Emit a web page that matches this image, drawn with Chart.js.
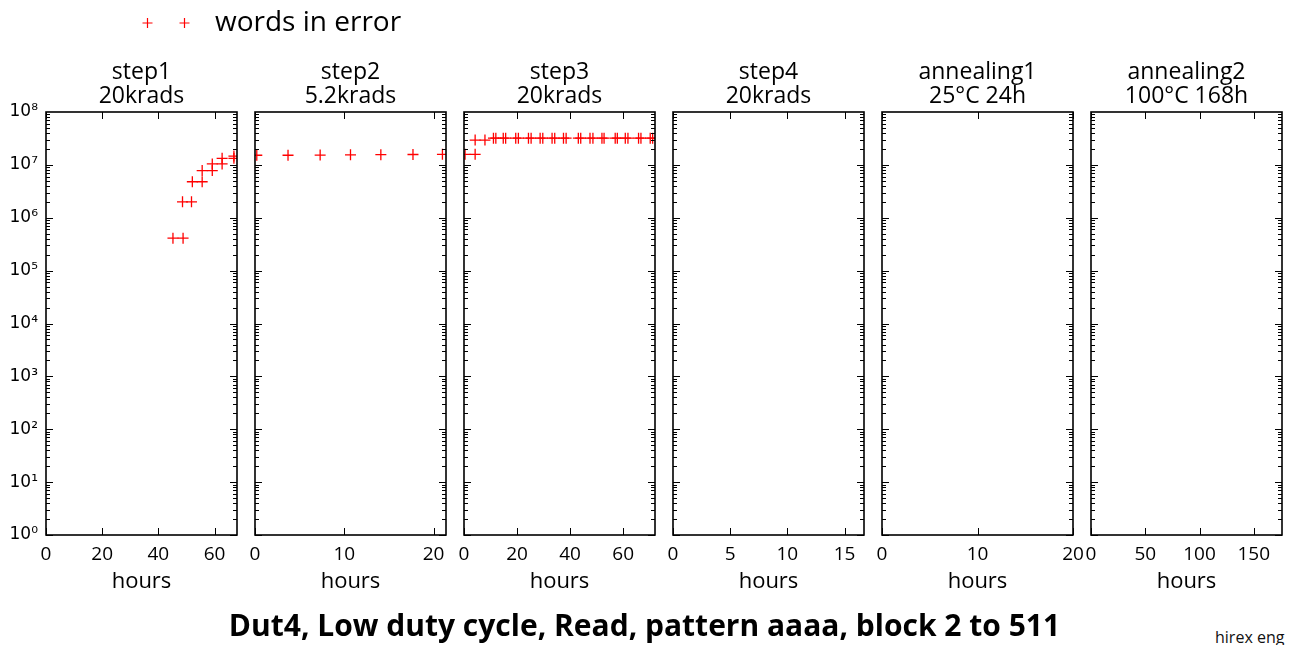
<!DOCTYPE html>
<html>
<head>
<meta charset="utf-8">
<script src="https://cdn.jsdelivr.net/npm/chart.js@4/dist/chart.umd.min.js"></script>
<style>
html,body{margin:0;padding:0;background:#fff;width:1289px;height:645px;overflow:hidden;}
#wrap{position:relative;width:1289px;height:645px;overflow:hidden;}
#wrap canvas{position:absolute;top:0;}
#credit{position:absolute;left:1215px;top:626px;font:16px 'Open Sans','DejaVu Sans',sans-serif;color:#111;white-space:nowrap;}
</style>
</head>
<body>
<div id="wrap"><div id="credit">hirex eng</div></div>
<script>
// ---------- data ----------
const legendLabel = 'words in error';
const footerTitle = 'Dut4, Low duty cycle, Read, pattern aaaa, block 2 to 511';
const panelTitles = [
  ['step1', '20krads'],
  ['step2', '5.2krads'],
  ['step3', '20krads'],
  ['step4', '20krads'],
  ['annealing1', '25°C 24h'],
  ['annealing2', '100°C 168h']
];
const xMax = [68, 21.4, 72, 16.7, 20, 176];
const xTicks = [
  [0, 20, 40, 60],
  [0, 10, 20],
  [0, 20, 40, 60],
  [0, 5, 10, 15],
  [0, 10, 20],
  [0, 50, 100, 150]
];
const yTicks = [1, 10, 100, 1e3, 1e4, 1e5, 1e6, 1e7, 1e8];

const step1Hours = [45.2, 48.8, 48.6, 51.8, 52.1, 55.6, 55.6, 59.2, 59.2, 62.7, 62.7, 66.9, 66.9];
const step1Words = [4.1e5, 4.1e5, 2.0e6, 2.0e6, 4.8e6, 4.8e6, 7.8e6, 7.8e6, 1.04e7, 1.04e7, 1.33e7, 1.33e7, 1.47e7];

const step2Hours = [0.2, 3.7, 7.3, 10.7, 14.1, 17.7, 21.0];
const step2Words = [1.52e7, 1.52e7, 1.53e7, 1.55e7, 1.56e7, 1.57e7, 1.58e7];

const step3Hours = [0.4, 4.2, 4.2, 7.9, 11.1, 12.0, 14.8, 15.7, 19.5, 20.5, 24.3, 25.3, 28.7, 29.7,
                    33.2, 34.2, 37.5, 38.5, 43.1, 44.0, 47.5, 48.6, 52.0, 52.8, 57.0, 57.8, 60.8, 61.8,
                    65.8, 66.7, 70.2, 71.1];
const step3Words = [1.58e7, 1.58e7, 2.95e7, 2.95e7, 3.2e7, 3.2e7, 3.2e7, 3.2e7, 3.2e7, 3.2e7, 3.2e7, 3.2e7,
                    3.2e7, 3.2e7, 3.2e7, 3.2e7, 3.2e7, 3.2e7, 3.2e7, 3.2e7, 3.2e7, 3.2e7, 3.2e7, 3.2e7,
                    3.2e7, 3.2e7, 3.2e7, 3.2e7, 3.2e7, 3.2e7, 3.2e7, 3.2e7];

const step4Hours = [];
const step4Words = [];
const anneal1Hours = [];
const anneal1Words = [];
const anneal2Hours = [];
const anneal2Words = [];

const panelHours = [step1Hours, step2Hours, step3Hours, step4Hours, anneal1Hours, anneal2Hours];
const panelWords = [step1Words, step2Words, step3Words, step4Words, anneal1Words, anneal2Words];

// ---------- drawing ----------
const FONT = "'Open Sans', 'DejaVu Sans', sans-serif";
const YFONT = "'DejaVu Sans', 'Open Sans', sans-serif";
const RED = '#ff0000';
const SUP = ['⁰','¹','²','³','⁴','⁵','⁶','⁷','⁸','⁹'];
const fmtPow = v => '10' + String(Math.round(Math.log10(v))).split('').map(d => SUP[+d]).join('');
const wrap = document.getElementById('wrap');

const framePlugin = {
  id: 'frame',
  afterDatasetsDraw(chart) {
    const {ctx, chartArea: a, scales: {x, y}} = chart;
    ctx.save();
    ctx.strokeStyle = '#000';
    ctx.lineWidth = 1;
    ctx.beginPath();
    const maj = 7, mnr = 4;
    x.ticks.forEach(t => {
      const px = Math.round(x.getPixelForValue(t.value)) + 0.5;
      ctx.moveTo(px, a.bottom); ctx.lineTo(px, a.bottom - maj);
      ctx.moveTo(px, a.top); ctx.lineTo(px, a.top + maj);
    });
    for (let e = 0; e < 8; e++) {
      for (let m = 1; m < 10; m++) {
        const py = Math.round(y.getPixelForValue(m * Math.pow(10, e))) + 0.5;
        const l = m === 1 ? maj : mnr;
        ctx.moveTo(a.left, py); ctx.lineTo(a.left + l, py);
        ctx.moveTo(a.right, py); ctx.lineTo(a.right - l, py);
      }
    }
    ctx.stroke();
    ctx.lineWidth = 1.6;
    ctx.strokeRect(a.left, a.top, a.right - a.left, a.bottom - a.top);
    ctx.restore();
  }
};

function makePanel(i) {
  const W = 191;
  const L = 46 + 209 * i;
  const first = i === 0;
  const leftM = first ? 46 : 20, rightM = 22;
  const cv = document.createElement('canvas');
  cv.width = leftM + W + rightM;
  cv.height = 645;
  cv.style.left = (L - leftM) + 'px';
  wrap.appendChild(cv);
  const hours = panelHours[i], words = panelWords[i];
  new Chart(cv, {
    type: 'scatter',
    data: {
      datasets: [{
        label: legendLabel,
        data: hours.map((h, k) => ({x: h, y: words[k]})),
        pointStyle: 'cross',
        pointRadius: 5.5,
        pointHoverRadius: 5.5,
        borderColor: RED,
        backgroundColor: RED,
        borderWidth: 1.3,
        showLine: false,
        clip: 0
      }]
    },
    options: {
      responsive: false,
      animation: false,
      devicePixelRatio: 1,
      events: [],
      layout: {padding: {left: first ? 0 : leftM, right: rightM, top: 60, bottom: 48}},
      plugins: {legend: {display: false}, tooltip: {enabled: false}, title: {display: false}},
      scales: {
        x: {
          type: 'linear', position: 'bottom', min: 0, max: xMax[i],
          afterBuildTicks: s => { s.ticks = xTicks[i].map(v => ({value: v})); },
          afterFit: s => { s.height = 62; },
          grid: {display: false, drawTicks: false},
          border: {display: false},
          ticks: {padding: 8, color: '#000', autoSkip: false, maxRotation: 0, font: {family: FONT, size: 19}},
          title: {display: true, text: 'hours', color: '#000', font: {family: FONT, size: 22}, padding: {top: 0, bottom: 2}}
        },
        x2: {
          type: 'linear', position: 'top', min: 0, max: xMax[i],
          afterFit: s => { s.height = 52; },
          grid: {display: false, drawTicks: false},
          border: {display: false},
          ticks: {display: false},
          title: {display: true, text: panelTitles[i], color: '#000', font: {family: FONT, size: 23, lineHeight: 1.05}, padding: {top: 0, bottom: 0}}
        },
        y: {
          type: 'logarithmic', min: 1, max: 1e8, display: first,
          afterBuildTicks: s => { s.ticks = yTicks.map(v => ({value: v})); },
          afterFit: s => { s.width = first ? 46 : 0; },
          grid: {display: false, drawTicks: false},
          border: {display: false},
          ticks: {padding: 8, color: '#000', autoSkip: false, font: {family: YFONT, size: 17}, callback: v => fmtPow(v)}
        }
      }
    },
    plugins: [framePlugin]
  });
}

for (let i = 0; i < 6; i++) makePanel(i);

// overlay: legend + footer title
const crossImg = document.createElement('canvas');
crossImg.width = 60; crossImg.height = 14;
(() => {
  const c = crossImg.getContext('2d');
  c.strokeStyle = RED; c.lineWidth = 1.2;
  [6.5, 43.5].forEach(cx => {
    c.beginPath();
    c.moveTo(cx - 5, 7); c.lineTo(cx + 5, 7);
    c.moveTo(cx, 2); c.lineTo(cx, 12);
    c.stroke();
  });
})();

const ov = document.createElement('canvas');
ov.width = 1289; ov.height = 645; ov.style.left = '0px';
wrap.appendChild(ov);
new Chart(ov, {
  type: 'scatter',
  data: {datasets: []},
  options: {
    responsive: false,
    animation: false,
    devicePixelRatio: 1,
    events: [],
    layout: {padding: {left: 132, right: 132, top: 0, bottom: 0}},
    scales: {x: {display: false}, y: {display: false}},
    plugins: {
      tooltip: {enabled: false},
      legend: {
        display: true, position: 'top', align: 'start',
        labels: {
          usePointStyle: true, pointStyleWidth: 60, padding: 9, color: '#000',
          font: {family: FONT, size: 28},
          generateLabels: () => [{text: legendLabel, pointStyle: crossImg, fillStyle: RED, strokeStyle: RED, lineWidth: 1, fontColor: '#000', hidden: false}]
        }
      },
      title: {
        display: true, position: 'bottom', text: footerTitle, color: '#000',
        font: {family: FONT, size: 30, weight: 'bold'}, padding: 0
      }
    }
  }
});
</script>
</body>
</html>
